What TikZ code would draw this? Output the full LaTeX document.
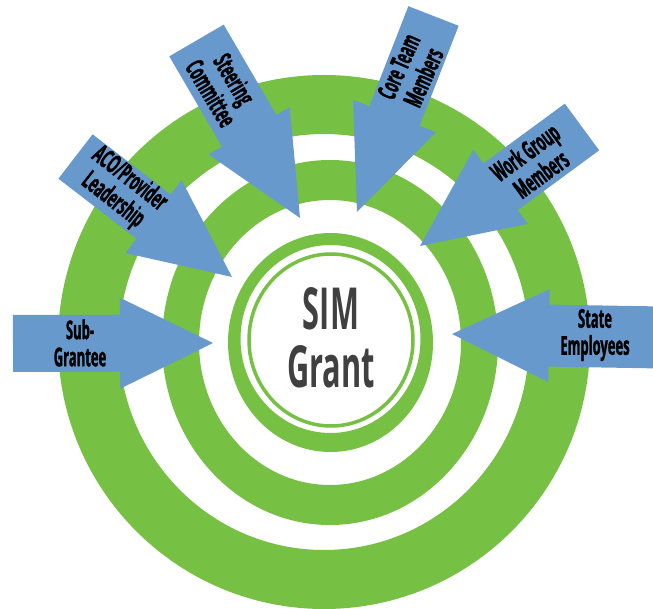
\documentclass[tikz,border=0pt]{standalone}
\usepackage{fontspec}
\newfontfamily\condfont[FakeStretch=0.5, FakeBold=1.2]{Open Sans}
\newfontfamily\centrefont[FakeStretch=0.53]{Open Sans}
\definecolor{ringgreen}{HTML}{76C043}
\definecolor{arrowblue}{HTML}{6899CC}
\definecolor{simgray}{HTML}{404040}
\tikzset{
  ringfill/.style={fill=ringgreen, even odd rule},
  arrowfill/.style={fill=arrowblue},
  arrowlabel/.style={font={\condfont\bfseries\fontsize{26}{27}\selectfont}, text=black, align=center, inner sep=0pt},
  centrelabel/.style={font={\centrefont\bfseries\fontsize{58}{58}\selectfont}, text=simgray, align=center, inner sep=0pt}
}
% tail x, tail y, tip x, tip y, shaft width, head width, head length
\newcommand\blockarrow[7]{%
  \pgfmathsetmacro\dxx{#3-#1}%
  \pgfmathsetmacro\dyy{#4-#2}%
  \pgfmathsetmacro\arrlen{veclen(\dxx,\dyy)}%
  \pgfmathsetmacro\arrang{atan2(-\dyy,\dxx)}%
  \begin{scope}[shift={(#1,#2)}, rotate=\arrang]
    \fill[arrowfill] (0,-#5/2) -- ({\arrlen-#7},-#5/2) -- ({\arrlen-#7},-#6/2)
      -- (\arrlen,0) -- ({\arrlen-#7},#6/2) -- ({\arrlen-#7},#5/2) -- (0,#5/2) -- cycle;
  \end{scope}}
\begin{document}
\begin{tikzpicture}[x=1pt,y=-1pt]
\useasboundingbox (0,0) rectangle (653,609);
% rings
\fill[ringfill] (324,342) ellipse [x radius=266, y radius=267] (324,342) ellipse [x radius=205, y radius=208];
\fill[ringfill] (330,342.5) ellipse [x radius=168, y radius=182.5] (330,342.5) ellipse [x radius=131, y radius=142.5];
\fill[ringfill] (330.5,342.5) ellipse [x radius=102.5, y radius=109.5] (330.5,339) ellipse [x radius=90, y radius=94];
\draw[ringgreen, line width=3.5pt] (331,340) ellipse [x radius=82, y radius=86];
% arrows
\blockarrow{13}{343.5}{213}{343}{57}{91}{93}
\blockarrow{662}{337.5}{452}{334}{62}{93}{97}
\blockarrow{75.5}{156.5}{232}{277}{56}{92}{99}
\blockarrow{196.5}{40.5}{300}{218}{63}{94}{101}
\blockarrow{433.5}{16}{357}{212}{54}{89}{103}
\blockarrow{582}{127}{420}{246}{58}{92}{100}
% labels
\node[arrowlabel] (sub) at (80,343) {Sub-\\Grantee};
\node[arrowlabel] (state) at (595,335) {State\\Employees};
\node[arrowlabel, rotate=-38] (aco) at (121,190) {ACO/Provider\\Leadership};
\node[arrowlabel, rotate=-59] (steer) at (223,86) {Steering\\Committee};
\node[arrowlabel, rotate=66] (core) at (411,72) {Core Team\\Members};
\node[arrowlabel, rotate=36] (work) at (533,163) {Work Group\\Members};
\node[centrelabel] (sim) at (331,338) {SIM\\Grant};
\end{tikzpicture}
\end{document}
